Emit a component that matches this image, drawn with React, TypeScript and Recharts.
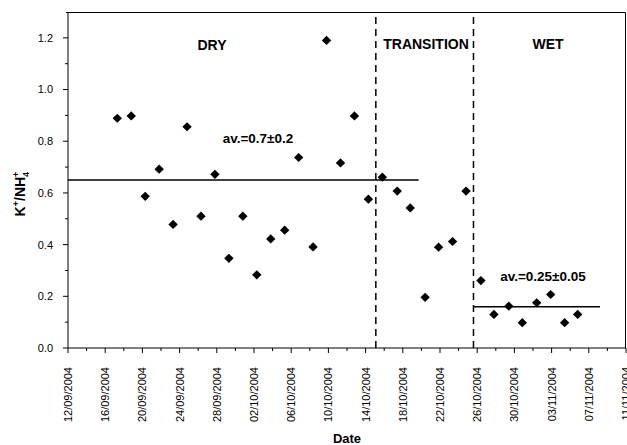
import { ReferenceLine, Scatter, ScatterChart, XAxis, YAxis } from "recharts";

// days elapsed since 12/09/2004
const sampleDay = [
  5.3, 6.8, 8.3, 9.8, 11.3, 12.8, 14.3, 15.8, 17.3, 18.8, 20.3, 21.8, 23.3, 24.8, 26.35, 27.8, 29.3,
  30.8, 32.3, 33.8, 35.4, 36.8, 38.4, 39.85, 41.35, 42.8, 44.4, 45.8, 47.4, 48.85, 50.4, 51.9, 53.4,
  54.8,
];
const ratio = [
  0.889, 0.898, 0.587, 0.692, 0.478, 0.856, 0.51, 0.672, 0.347, 0.51, 0.283, 0.422, 0.456, 0.737,
  0.391, 1.19, 0.716, 0.898, 0.576, 0.661, 0.607, 0.542, 0.196, 0.39, 0.412, 0.607, 0.261, 0.13,
  0.162, 0.098, 0.175, 0.207, 0.098, 0.13,
];

const xTicks = [0, 2, 4, 6, 8, 10, 12, 14, 16, 18, 20, 22, 24, 26, 28, 30, 32, 34, 36, 38, 40, 42, 44, 46, 48, 50, 52, 54, 56, 58, 60];
const yTicks = [0, 0.1, 0.2, 0.3, 0.4, 0.5, 0.6, 0.7, 0.8, 0.9, 1.0, 1.1, 1.2, 1.3];
const X_MAX = 60;
const Y_MAX = 1.3;

// season boundaries (days) and mean lines
const transitionStart = 33.1;
const wetStart = 43.6;
const dryMean = { from: 0, to: 37.7, value: 0.65 };
const wetMean = { from: 43.6, to: 57.2, value: 0.16 };

const data = sampleDay.map((d, i) => ({ day: d, ratio: ratio[i] }));

const FONT = "'Liberation Sans', Arial, sans-serif";

function dateLabel(d: number) {
  const t = new Date(Date.UTC(2004, 8, 12 + d));
  const dd = String(t.getUTCDate()).padStart(2, "0");
  const mm = String(t.getUTCMonth() + 1).padStart(2, "0");
  return `${dd}/${mm}/${t.getUTCFullYear()}`;
}

function BottomTick({ x, y, payload }: any) {
  const major = payload.value % 4 === 0;
  return (
    <g>
      <line x1={x} y1={y} x2={x} y2={y + (major ? 5 : 3)} stroke="#000" />
      {major && (
        <text
          x={x}
          y={y + 19}
          transform={`rotate(-90 ${x} ${y + 19})`}
          textAnchor="end"
          dy="0.36em"
          fontSize={11}
          fill="#000"
          fontFamily={FONT}
        >
          {dateLabel(payload.value)}
        </text>
      )}
    </g>
  );
}

function LeftTick({ x, y, payload }: any) {
  const major = Math.round(payload.value * 10) % 2 === 0;
  if (payload.value > 1.25) return <g />;
  return (
    <g>
      <line x1={x - (major ? 5 : 3)} y1={y} x2={x} y2={y} stroke="#000" />
      {major && (
        <text x={x - 15} y={y} dy="0.36em" textAnchor="end" fontSize={11} fill="#000" fontFamily={FONT}>
          {payload.value.toFixed(1)}
        </text>
      )}
    </g>
  );
}

function Diamond({ cx, cy }: any) {
  return <path d={`M${cx},${cy - 4.6}L${cx + 4.7},${cy}L${cx},${cy + 4.6}L${cx - 4.7},${cy}Z`} fill="#000" />;
}

const bold = { fontFamily: FONT, fontWeight: 700, fill: "#000" } as const;

export default function App() {
  return (
    <div style={{ position: "absolute", left: 0, top: 0, width: 627, height: 445, background: "#fff" }}>
      <ScatterChart width={627} height={445} margin={{ top: 12, right: 1, left: 0, bottom: 0 }}>
        <XAxis
          type="number"
          dataKey="day"
          domain={[0, X_MAX]}
          ticks={xTicks}
          interval={0}
          height={97}
          tickSize={0}
          tickMargin={0}
          tickLine={false}
          tick={<BottomTick />}
          axisLine={{ stroke: "#000" }}
        />
        <YAxis
          type="number"
          dataKey="ratio"
          domain={[0, Y_MAX]}
          ticks={yTicks}
          interval={0}
          width={68}
          tickSize={0}
          tickMargin={0}
          tickLine={false}
          tick={<LeftTick />}
          axisLine={{ stroke: "#000" }}
        />
        <ReferenceLine x={transitionStart} stroke="#000" strokeWidth={1.5} strokeDasharray="7 5" />
        <ReferenceLine x={wetStart} stroke="#000" strokeWidth={1.5} strokeDasharray="7 5" />
        <ReferenceLine
          segment={[
            { x: dryMean.from, y: dryMean.value },
            { x: dryMean.to, y: dryMean.value },
          ]}
          stroke="#000"
          strokeWidth={1.5}
        />
        <ReferenceLine
          segment={[
            { x: wetMean.from, y: wetMean.value },
            { x: wetMean.to, y: wetMean.value },
          ]}
          stroke="#000"
          strokeWidth={1.5}
        />
        <Scatter data={data} shape={<Diamond />} isAnimationActive={false} />
      </ScatterChart>
      <svg width={627} height={445} style={{ position: "absolute", left: 0, top: 0, pointerEvents: "none" }}>
        {/* top and right sides of the plot frame */}
        <polyline points="66,12.5 625.5,12.5 625.5,348" fill="none" stroke="#000" strokeWidth={1} />
        <text x={212} y={50} textAnchor="middle" fontSize={14} {...bold}>DRY</text>
        <text x={426} y={49} textAnchor="middle" fontSize={14} {...bold}>TRANSITION</text>
        <text x={548} y={49} textAnchor="middle" fontSize={14} {...bold}>WET</text>
        <text x={258} y={143} textAnchor="middle" fontSize={13.5} {...bold}>av.=0.7±0.2</text>
        <text x={543} y={281} textAnchor="middle" fontSize={13.5} {...bold}>av.=0.25±0.05</text>
        <text x={347} y={443} textAnchor="middle" fontSize={13} {...bold}>Date</text>
        <text transform="translate(25,194) rotate(-90)" textAnchor="middle" fontSize={14} {...bold}>
          K<tspan fontSize={9} dy={-6}>+</tspan>
          <tspan dy={6}>/NH</tspan>
          <tspan fontSize={9} dy={4}>4</tspan>
          <tspan fontSize={9} dx={-5} dy={-10}>+</tspan>
        </text>
      </svg>
    </div>
  );
}
